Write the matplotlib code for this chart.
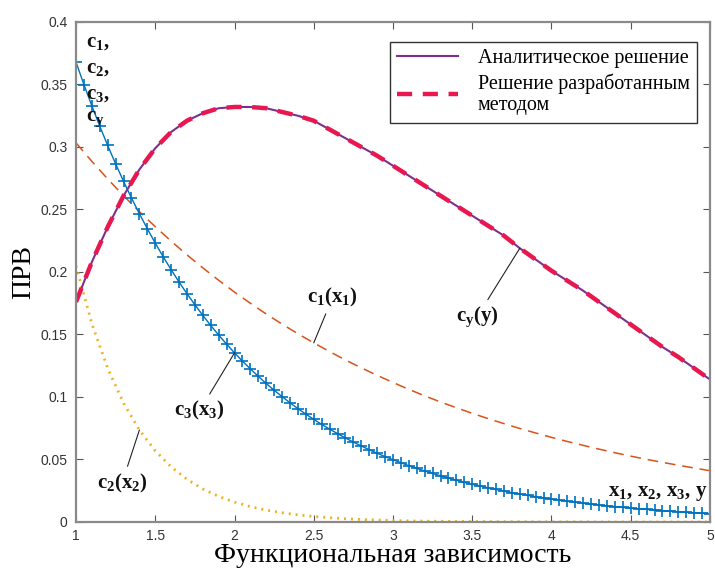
import numpy as np
import matplotlib
matplotlib.use("Agg")
import matplotlib.pyplot as plt

# ---- ДАННЫЕ ----
# сетка для кривых ПРВ (шаг 0.1) и для маркеров c3 (шаг 0.05)
x_grid = np.round(np.arange(1.0, 5.0001, 0.1), 2)
x_fine = np.round(np.arange(1.0, 5.0001, 0.05), 3)

c1_vals = [0.3033, 0.2885, 0.2744, 0.2610, 0.2483, 0.2362, 0.2247, 0.2137, 0.2033, 0.1934,
           0.1839, 0.1750, 0.1664, 0.1583, 0.1506, 0.1433, 0.1363, 0.1296, 0.1233, 0.1173,
           0.1116, 0.1061, 0.1009, 0.0960, 0.0914, 0.0869, 0.0827, 0.0787, 0.0748, 0.0712,
           0.0677, 0.0644, 0.0613, 0.0583, 0.0554, 0.0527, 0.0501, 0.0477, 0.0454, 0.0432,
           0.0410]

c2_vals = [0.2050, 0.1587, 0.1229, 0.0951, 0.0736, 0.0570, 0.0441, 0.0342, 0.0264, 0.0205,
           0.0159, 0.0123, 0.0095, 0.0074, 0.0057, 0.0044, 0.0034, 0.0026, 0.0020, 0.0016,
           0.0012, 0.0009, 0.0007, 0.0006, 0.0004, 0.0003, 0.0003, 0.0002, 0.0002, 0.0001,
           0.0001, 0.0001, 0.0001, 0.0000, 0.0000, 0.0000, 0.0000, 0.0000, 0.0000, 0.0000,
           0.0000]

c3_vals = [0.3679, 0.3499, 0.3329, 0.3166, 0.3012, 0.2865, 0.2725, 0.2592, 0.2466, 0.2346,
           0.2231, 0.2122, 0.2019, 0.1920, 0.1827, 0.1738, 0.1653, 0.1572, 0.1496, 0.1423,
           0.1353, 0.1287, 0.1225, 0.1165, 0.1108, 0.1054, 0.1003, 0.0954, 0.0907, 0.0863,
           0.0821, 0.0781, 0.0743, 0.0707, 0.0672, 0.0639, 0.0608, 0.0578, 0.0550, 0.0523,
           0.0498, 0.0474, 0.0450, 0.0429, 0.0408, 0.0388, 0.0369, 0.0351, 0.0334, 0.0317,
           0.0302, 0.0287, 0.0273, 0.0260, 0.0247, 0.0235, 0.0224, 0.0213, 0.0202, 0.0193,
           0.0183, 0.0174, 0.0166, 0.0158, 0.0150, 0.0143, 0.0136, 0.0129, 0.0123, 0.0117,
           0.0111, 0.0106, 0.0101, 0.0096, 0.0091, 0.0087, 0.0082, 0.0078, 0.0074, 0.0071,
           0.0067]

# аналитическая ПРВ суммы и решение разработанным методом
cy_vals = [0.176, 0.208, 0.236, 0.261, 0.282, 0.299, 0.312, 0.321, 0.327, 0.331,
           0.332, 0.332, 0.331, 0.328, 0.325, 0.321, 0.314, 0.307, 0.300, 0.293,
           0.285, 0.277, 0.269, 0.261, 0.253, 0.245, 0.237, 0.229, 0.219, 0.210,
           0.201, 0.193, 0.185, 0.176, 0.167, 0.158, 0.149, 0.140, 0.132, 0.123,
           0.114]
cy_method = cy_vals

x_ticks = [1, 1.5, 2, 2.5, 3, 3.5, 4, 4.5, 5]
x_tick_labels = ["1", "1.5", "2", "2.5", "3", "3.5", "4", "4.5", "5"]
y_ticks = [0, 0.05, 0.1, 0.15, 0.2, 0.25, 0.3, 0.35, 0.4]
y_tick_labels = ["0", "0.05", "0.1", "0.15", "0.2", "0.25", "0.3", "0.35", "0.4"]

legend_labels = ["Аналитическое решение", "Решение разработанным\nметодом"]

# ---- ГРАФИК ----
plt.rcParams["mathtext.fontset"] = "custom"
plt.rcParams["mathtext.rm"] = "Liberation Serif"
plt.rcParams["mathtext.it"] = "Liberation Serif:italic"
plt.rcParams["mathtext.bf"] = "Liberation Serif:bold"

fig = plt.figure(figsize=(7.15, 5.68), dpi=100)
ax = fig.add_axes([0.1063, 0.081, 0.8867, 0.8803])

ax.plot(x_grid, c1_vals, color="#D95319", lw=1.1, dashes=(7, 4.5))
ax.plot(x_grid, c2_vals, color="#EDB120", lw=2.0, dashes=(0.7, 1.8))
ax.plot(x_fine, c3_vals, color="#0072BD", lw=1.0, marker="+", ms=8, mew=1.2)
ax.plot(x_grid, cy_vals, color="#7E2F8E", lw=1.5, label=legend_labels[0])
ax.plot(x_grid, cy_method, color="#E8174F", lw=3.2, dashes=(3.4, 2.4), label=legend_labels[1])

ax.set_xlim(1, 5)
ax.set_ylim(0, 0.4)
ax.set_xticks(x_ticks)
ax.set_xticklabels(x_tick_labels)
ax.set_yticks(y_ticks)
ax.set_yticklabels(y_tick_labels)
ax.tick_params(direction="in", length=5, width=0.8, top=True, right=True,
               labelsize=10, labelcolor="#333333", color="#555555")
ax.tick_params(axis="x", pad=5)
ax.tick_params(axis="y", pad=6)
for lbl in ax.get_xticklabels() + ax.get_yticklabels():
    lbl.set_family("Liberation Sans")
for sp in ax.spines.values():
    sp.set_color("#8a8a8a")
    sp.set_linewidth(1.6)

ax.set_xlabel("Функциональная зависимость", family="Liberation Serif", fontsize=20)
ax.set_ylabel("ПРВ", family="Liberation Serif", fontsize=20)
ax.xaxis.set_label_coords(0.5, -0.042)
ax.yaxis.set_label_coords(-0.062, 0.5)

leg = ax.legend(loc="upper right", bbox_to_anchor=(0.9795, 0.96), frameon=True,
                borderaxespad=0, fancybox=False, edgecolor="#333333", framealpha=1,
                handlelength=3.0, borderpad=0.35, labelspacing=0.25, handletextpad=1.0,
                prop={"family": "Liberation Serif", "size": 14.5})
leg.get_frame().set_linewidth(1.0)

# подписи кривых со сносками
txt = dict(fontsize=15, color="#111111")
line = dict(arrowstyle="-", color="#222222", lw=0.8, shrinkB=0)
ax.annotate(r"$\mathbf{c_1(x_1)}$", xy=(x_grid[15], c1_vals[15]), xytext=(2.62, 0.18),
            ha="center", va="center", arrowprops=line, **txt)
ax.annotate(r"$\mathbf{c_y(y)}$", xy=(x_grid[28], cy_vals[28]), xytext=(3.53, 0.164),
            ha="center", va="center", arrowprops=line, **txt)
ax.annotate(r"$\mathbf{c_3(x_3)}$", xy=(x_fine[20], c3_vals[20]), xytext=(1.78, 0.089),
            ha="center", va="center", arrowprops=line, **txt)
ax.annotate(r"$\mathbf{c_2(x_2)}$", xy=(x_grid[4], c2_vals[4]), xytext=(1.29, 0.031),
            ha="center", va="center", arrowprops=line, **txt)

# перечень ПРВ слева и аргументы справа
for yy, s in zip([0.384, 0.363, 0.342, 0.322],
                 [r"$\mathbf{c_1,}$", r"$\mathbf{c_2,}$", r"$\mathbf{c_3,}$", r"$\mathbf{c_y}$"]):
    ax.text(1.063, yy, s, ha="left", va="center", **txt)
ax.text(4.985, 0.023, r"$\mathbf{x_1,\,x_2,\,x_3,\,y}$", ha="right", va="center", **txt)

fig.savefig("out.png", dpi=100)
